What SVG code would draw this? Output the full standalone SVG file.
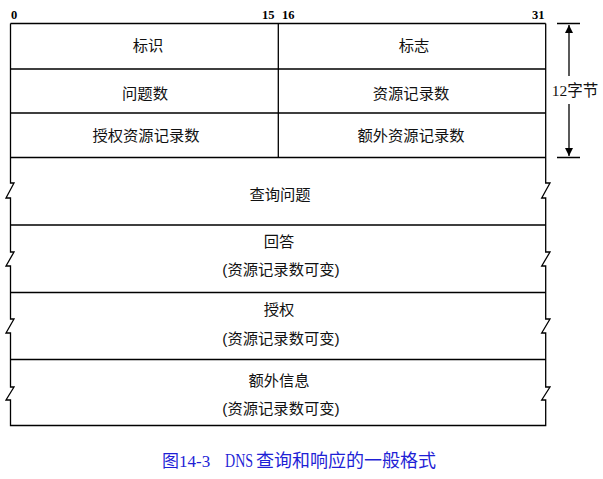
<svg xmlns="http://www.w3.org/2000/svg" width="603" height="479" viewBox="0 0 603 479">
<defs>
<style>
.ln{stroke:#000;stroke-width:1.3;fill:none}
.t{font-family:"Liberation Sans","Noto Sans CJK SC",sans-serif;font-size:15.3px;fill:#111;text-anchor:middle}
.n{font-family:"Liberation Serif",serif;font-size:12.5px;font-weight:bold;fill:#000}
.cap{font-family:"Liberation Serif","Noto Sans CJK SC",serif;font-size:17px;fill:#1f1fd6}
</style>
<marker id="ah" markerWidth="8" markerHeight="12" refX="8" refY="4" orient="auto" markerUnits="userSpaceOnUse">
<path d="M0,0 L8,4 L0,8 z" fill="#000"/>
</marker>
</defs>
<rect width="603" height="479" fill="#fff"/>
<g id="header">
<text class="n" x="11" y="19">0</text>
<text class="n" x="262" y="19">15</text>
<text class="n" x="282" y="19">16</text>
<text class="n" x="532" y="19">31</text>
</g>
<g id="connectors">
<path class="ln" d="M10.5,23.5 H545.7 M10.5,23.5 V183 H14 L6,198 H10.5 V252 H14 L6,266 H10.5 V319 H14 L6,333 H10.5 V387 H14 L6,400 H10.5 V425.5 H545.7 V400 H541.7 L550,387 H545.7 V333 H541.7 L550,319 H545.7 V266 H541.7 L550,252 H545.7 V198 H541.7 L550,183 H545.7 V23.5"/>
<path class="ln" d="M10.5,69 H545.7 M10.5,113 H545.7 M10.5,157.5 H545.7 M10.5,225 H545.7 M10.5,292.5 H545.7 M10.5,359.5 H545.7 M278.3,23.5 V157.5"/>
<path class="ln" d="M557,23.5 H580 M557,157.5 H580"/>
<line class="ln" x1="569" y1="76" x2="569" y2="25" marker-end="url(#ah)"/>
<line class="ln" x1="569" y1="104" x2="569" y2="156" marker-end="url(#ah)"/>
</g>
<g id="id"><text class="t" x="148" y="51">标识</text></g>
<g id="flags"><text class="t" x="414" y="51">标志</text></g>
<g id="qd"><text class="t" x="145" y="98.5">问题数</text></g>
<g id="an"><text class="t" x="411" y="98.5">资源记录数</text></g>
<g id="ns"><text class="t" x="146" y="140.5">授权资源记录数</text></g>
<g id="ar"><text class="t" x="411" y="140.5">额外资源记录数</text></g>
<g id="question"><text class="t" x="280" y="200">查询问题</text></g>
<g id="answer"><text class="t" x="279" y="247">回答</text><text class="t" x="281" y="274.5">(资源记录数可变)</text></g>
<g id="authority"><text class="t" x="279" y="315">授权</text><text class="t" x="281" y="343.5">(资源记录数可变)</text></g>
<g id="additional"><text class="t" x="279" y="386">额外信息</text><text class="t" x="281" y="413.5">(资源记录数可变)</text></g>
<g id="size"><text class="t" x="575" y="96" style="font-family:'Liberation Serif','Noto Sans CJK SC',serif;font-size:15.5px">12字节</text></g>
<g id="caption">
<text class="cap" x="162" y="467">图14-3</text>
<text class="cap" transform="translate(225,467) scale(0.78,1)" x="0" y="0" style="font-size:18px">DNS</text>
<text class="cap" x="256" y="467" style="font-size:18px">查询和响应的一般格式</text>
</g>
</svg>
